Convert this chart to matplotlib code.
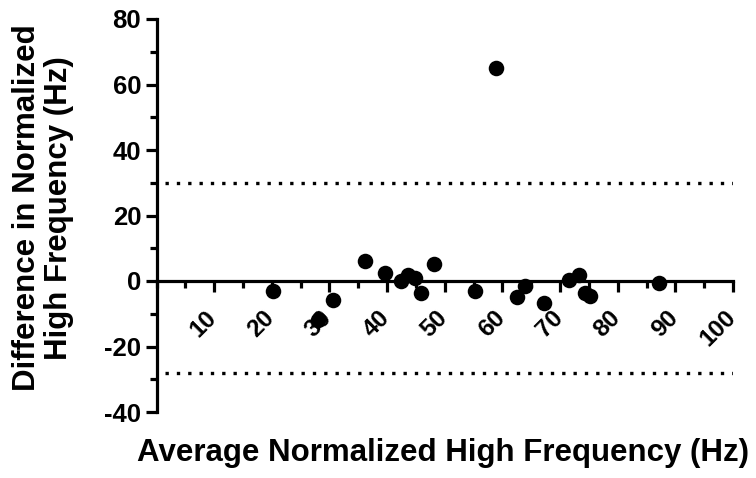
import matplotlib
matplotlib.use("Agg")
import matplotlib.pyplot as plt
import matplotlib.transforms as mtransforms
from matplotlib.ticker import MultipleLocator

# Data
avg_freq = [58.9, 36.1, 39.7, 48.2, 42.4, 43.6, 44.9, 45.9, 20.2, 30.7,
            28.1, 55.3, 62.6, 63.9, 67.3, 71.5, 73.3, 74.3, 75.2, 87.2]
diff_freq = [65.1, 6.1, 2.5, 5.1, 0.0, 1.8, 1.0, -3.6, -3.1, -5.8,
             -11.9, -3.0, -5.0, -1.5, -6.6, 0.3, 1.8, -3.8, -4.6, -0.7]
upper_loa = 30.0
lower_loa = -28.0
x_ticks = [10, 20, 30, 40, 50, 60, 70, 80, 90, 100]
y_ticks = [-40, -20, 0, 20, 40, 60, 80]

plt.rcParams['font.family'] = ['Liberation Sans', 'DejaVu Sans']
plt.rcParams['font.weight'] = 'bold'

W, H = 756, 478
fig = plt.figure(figsize=(W / 100, H / 100), dpi=100)
ax = fig.add_axes([156.5 / W, 1 - 412 / H, (733 - 156.5) / W, (412 - 19) / H])

ax.scatter(avg_freq, diff_freq, s=125, color='black', zorder=3, clip_on=False, linewidths=0)
ax.plot([1.5, 100], [upper_loa, upper_loa], linestyle=(0, (1, 2.4)), color='black', lw=2.4)
ax.plot([1.5, 100], [lower_loa, lower_loa], linestyle=(0, (1, 2.4)), color='black', lw=2.4)

ax.set_xlim(0, 100)
ax.set_ylim(-40, 80)
ax.spines['top'].set_visible(False)
ax.spines['right'].set_visible(False)
ax.spines['bottom'].set_position(('data', 0))
ax.spines['left'].set_linewidth(2.3)
ax.spines['bottom'].set_linewidth(2.3)

ax.set_xticks(x_ticks)
ax.set_xticklabels([str(t) for t in x_ticks], rotation=45, ha='right', va='center',
                   rotation_mode='anchor', fontsize=17.5, fontweight='bold')
ax.xaxis.set_minor_locator(MultipleLocator(5))
ax.set_yticks(y_ticks)
ax.set_yticklabels([str(t) for t in y_ticks], fontsize=18.5, fontweight='bold')
ax.yaxis.set_minor_locator(MultipleLocator(10))

ax.tick_params(axis='x', which='major', direction='out', length=8, width=2.3, pad=16)
ax.tick_params(axis='x', which='minor', direction='out', length=5, width=2.3)
ax.tick_params(axis='y', which='major', direction='out', length=8, width=2.3, pad=3)
ax.tick_params(axis='y', which='minor', direction='out', length=5, width=2.3)

shift = mtransforms.ScaledTranslation(-1 / 100, 0, fig.dpi_scale_trans)
for lbl in ax.get_xticklabels():
    lbl.set_transform(lbl.get_transform() + shift)

fig.text(443 / W, 1 - 453 / H, 'Average Normalized High Frequency (Hz)',
         ha='center', va='center', fontsize=22.5, fontweight='bold')
fig.text(43 / W, 1 - 208 / H, 'Difference in Normalized\nHigh Frequency (Hz)',
         ha='center', va='center', rotation=90, fontsize=22.5, fontweight='bold',
         multialignment='center', linespacing=1.1)

fig.savefig('out.png', dpi=100)
